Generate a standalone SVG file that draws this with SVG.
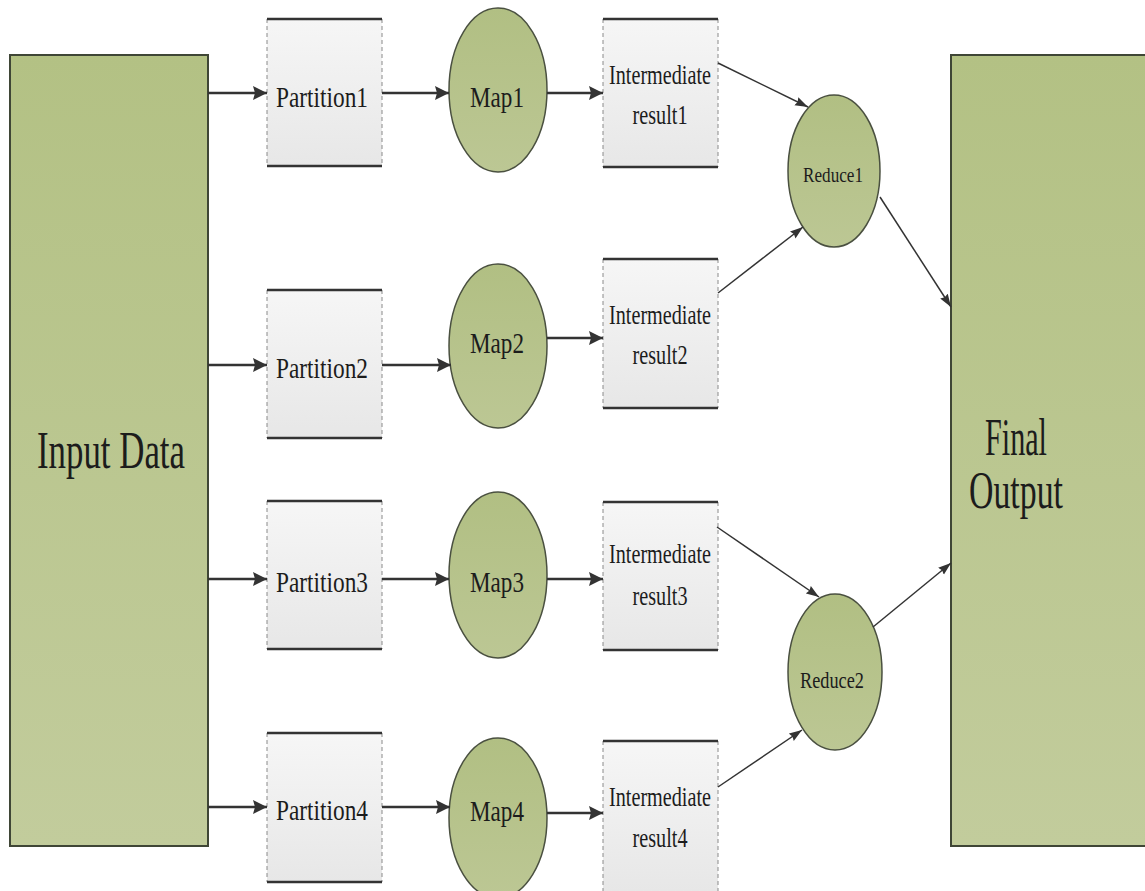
<svg xmlns="http://www.w3.org/2000/svg" width="1145" height="891" viewBox="0 0 1145 891">
  <defs>
    <linearGradient id="green" x1="0" y1="0" x2="0" y2="1">
      <stop offset="0" stop-color="#b3c184"/>
      <stop offset="1" stop-color="#c2cc9c"/>
    </linearGradient>
    <linearGradient id="greenOval" x1="0" y1="0" x2="0" y2="1">
      <stop offset="0" stop-color="#b1bf83"/>
      <stop offset="1" stop-color="#bcc794"/>
    </linearGradient>
    <linearGradient id="paper" x1="0" y1="0" x2="0" y2="1">
      <stop offset="0" stop-color="#f6f6f6"/>
      <stop offset="1" stop-color="#e7e7e7"/>
    </linearGradient>
    <marker id="head" markerUnits="userSpaceOnUse" markerWidth="16" markerHeight="14" refX="14" refY="7" orient="auto">
      <path d="M0,0 L14,7 L0,14 L2,7 z" fill="#333"/>
    </marker>
    <marker id="headThin" markerUnits="userSpaceOnUse" markerWidth="14" markerHeight="10" refX="13" refY="4.5" orient="auto">
      <path d="M0,0 L13,4.5 L0,9 L1.5,4.5 z" fill="#333"/>
    </marker>
    <style>
      .big { fill: url(#green); stroke: #3f4636; stroke-width: 2; }
      .oval { fill: url(#greenOval); stroke: #4a5040; stroke-width: 1.5; }
      .card { fill: url(#paper); }
      .side { stroke: #8a8a8a; stroke-width: 1; stroke-dasharray: 4 3; }
      .edge { stroke: #333; stroke-width: 2.5; }
      .t { font-family: "Liberation Serif", "Times New Roman", serif; fill: #1c1c1c; text-anchor: middle; }
      .conn { stroke: #333; stroke-width: 2.5; fill: none; marker-end: url(#head); }
      .diag { stroke: #333; stroke-width: 1.5; fill: none; marker-end: url(#headThin); }
    </style>
  </defs>

  <rect width="1145" height="891" fill="#ffffff"/>

  <!-- source and sink -->
  <g id="input-data">
    <rect class="big" x="10" y="55" width="198" height="791"/>
    <text class="t" x="111" y="468" font-size="52" textLength="148" lengthAdjust="spacingAndGlyphs">Input Data</text>
  </g>
  <g id="final-output">
    <rect class="big" x="951" y="55" width="210" height="791"/>
    <text class="t" x="1016" y="455" font-size="52" textLength="62" lengthAdjust="spacingAndGlyphs">Final</text>
    <text class="t" x="1016" y="508" font-size="52" textLength="94" lengthAdjust="spacingAndGlyphs">Output</text>
  </g>

  <!-- partitions -->
  <g id="partition1">
    <rect class="card" x="267" y="19" width="115" height="147"/>
    <line class="side" x1="267" y1="19" x2="267" y2="166"/><line class="side" x1="382" y1="19" x2="382" y2="166"/>
    <line class="edge" x1="267" y1="19" x2="382" y2="19"/><line class="edge" x1="267" y1="166" x2="382" y2="166"/>
    <text class="t" x="322" y="107" font-size="30" textLength="92" lengthAdjust="spacingAndGlyphs">Partition1</text>
  </g>
  <g id="partition2">
    <rect class="card" x="267" y="290" width="115" height="148"/>
    <line class="side" x1="267" y1="290" x2="267" y2="438"/><line class="side" x1="382" y1="290" x2="382" y2="438"/>
    <line class="edge" x1="267" y1="290" x2="382" y2="290"/><line class="edge" x1="267" y1="438" x2="382" y2="438"/>
    <text class="t" x="322" y="378" font-size="30" textLength="92" lengthAdjust="spacingAndGlyphs">Partition2</text>
  </g>
  <g id="partition3">
    <rect class="card" x="267" y="501" width="115" height="148"/>
    <line class="side" x1="267" y1="501" x2="267" y2="649"/><line class="side" x1="382" y1="501" x2="382" y2="649"/>
    <line class="edge" x1="267" y1="501" x2="382" y2="501"/><line class="edge" x1="267" y1="649" x2="382" y2="649"/>
    <text class="t" x="322" y="592" font-size="30" textLength="92" lengthAdjust="spacingAndGlyphs">Partition3</text>
  </g>
  <g id="partition4">
    <rect class="card" x="267" y="733" width="115" height="149"/>
    <line class="side" x1="267" y1="733" x2="267" y2="882"/><line class="side" x1="382" y1="733" x2="382" y2="882"/>
    <line class="edge" x1="267" y1="733" x2="382" y2="733"/><line class="edge" x1="267" y1="882" x2="382" y2="882"/>
    <text class="t" x="322" y="820" font-size="30" textLength="92" lengthAdjust="spacingAndGlyphs">Partition4</text>
  </g>

  <!-- map tasks -->
  <g id="map1">
    <ellipse class="oval" cx="498" cy="90" rx="49" ry="82"/>
    <text class="t" x="497" y="107" font-size="30" textLength="54" lengthAdjust="spacingAndGlyphs">Map1</text>
  </g>
  <g id="map2">
    <ellipse class="oval" cx="498" cy="346" rx="49" ry="82"/>
    <text class="t" x="497" y="353" font-size="30" textLength="54" lengthAdjust="spacingAndGlyphs">Map2</text>
  </g>
  <g id="map3">
    <ellipse class="oval" cx="498" cy="575" rx="49" ry="83"/>
    <text class="t" x="497" y="592" font-size="30" textLength="54" lengthAdjust="spacingAndGlyphs">Map3</text>
  </g>
  <g id="map4">
    <ellipse class="oval" cx="498" cy="818" rx="49" ry="80"/>
    <text class="t" x="497" y="821" font-size="30" textLength="54" lengthAdjust="spacingAndGlyphs">Map4</text>
  </g>

  <!-- intermediate results -->
  <g id="intermediate1">
    <rect class="card" x="603" y="19" width="115" height="148"/>
    <line class="side" x1="603" y1="19" x2="603" y2="167"/><line class="side" x1="718" y1="19" x2="718" y2="167"/>
    <line class="edge" x1="603" y1="19" x2="718" y2="19"/><line class="edge" x1="603" y1="167" x2="718" y2="167"/>
    <text class="t" x="660" y="84" font-size="28" textLength="102" lengthAdjust="spacingAndGlyphs">Intermediate</text>
    <text class="t" x="660" y="124" font-size="28" textLength="55" lengthAdjust="spacingAndGlyphs">result1</text>
  </g>
  <g id="intermediate2">
    <rect class="card" x="603" y="259" width="115" height="149"/>
    <line class="side" x1="603" y1="259" x2="603" y2="408"/><line class="side" x1="718" y1="259" x2="718" y2="408"/>
    <line class="edge" x1="603" y1="259" x2="718" y2="259"/><line class="edge" x1="603" y1="408" x2="718" y2="408"/>
    <text class="t" x="660" y="324" font-size="28" textLength="102" lengthAdjust="spacingAndGlyphs">Intermediate</text>
    <text class="t" x="660" y="364" font-size="28" textLength="55" lengthAdjust="spacingAndGlyphs">result2</text>
  </g>
  <g id="intermediate3">
    <rect class="card" x="603" y="502" width="115" height="148"/>
    <line class="side" x1="603" y1="502" x2="603" y2="650"/><line class="side" x1="718" y1="502" x2="718" y2="650"/>
    <line class="edge" x1="603" y1="502" x2="718" y2="502"/><line class="edge" x1="603" y1="650" x2="718" y2="650"/>
    <text class="t" x="660" y="563" font-size="28" textLength="102" lengthAdjust="spacingAndGlyphs">Intermediate</text>
    <text class="t" x="660" y="605" font-size="28" textLength="55" lengthAdjust="spacingAndGlyphs">result3</text>
  </g>
  <g id="intermediate4">
    <rect class="card" x="603" y="741" width="115" height="150"/>
    <line class="side" x1="603" y1="741" x2="603" y2="891"/><line class="side" x1="718" y1="741" x2="718" y2="891"/>
    <line class="edge" x1="603" y1="741" x2="718" y2="741"/>
    <text class="t" x="660" y="806" font-size="28" textLength="102" lengthAdjust="spacingAndGlyphs">Intermediate</text>
    <text class="t" x="660" y="847" font-size="28" textLength="55" lengthAdjust="spacingAndGlyphs">result4</text>
  </g>

  <!-- reduce tasks -->
  <g id="reduce1">
    <ellipse class="oval" cx="834" cy="171" rx="46" ry="76"/>
    <text class="t" x="833" y="182" font-size="22" textLength="60" lengthAdjust="spacingAndGlyphs">Reduce1</text>
  </g>
  <g id="reduce2">
    <ellipse class="oval" cx="835" cy="672" rx="47" ry="78"/>
    <text class="t" x="832" y="688" font-size="23" textLength="64" lengthAdjust="spacingAndGlyphs">Reduce2</text>
  </g>

  <!-- connectors -->
  <g id="connectors">
    <line class="conn" x1="208" y1="93" x2="267" y2="93"/>
    <line class="conn" x1="382" y1="93" x2="449" y2="93"/>
    <line class="conn" x1="547" y1="93" x2="603" y2="93"/>

    <line class="conn" x1="208" y1="365" x2="267" y2="365"/>
    <line class="conn" x1="382" y1="365" x2="451" y2="365"/>
    <line class="conn" x1="547" y1="338" x2="603" y2="338"/>

    <line class="conn" x1="208" y1="579" x2="267" y2="579"/>
    <line class="conn" x1="382" y1="579" x2="449" y2="579"/>
    <line class="conn" x1="547" y1="579" x2="603" y2="579"/>

    <line class="conn" x1="208" y1="807" x2="267" y2="807"/>
    <line class="conn" x1="382" y1="807" x2="450" y2="807"/>
    <line class="conn" x1="547" y1="813" x2="603" y2="813"/>

    <line class="diag" x1="718" y1="63" x2="808" y2="107"/>
    <line class="diag" x1="718" y1="293" x2="803" y2="227"/>
    <line class="diag" x1="880" y1="197" x2="951" y2="307"/>
    <line class="diag" x1="717" y1="527" x2="819" y2="597"/>
    <line class="diag" x1="718" y1="787" x2="802" y2="730"/>
    <line class="diag" x1="873" y1="627" x2="951" y2="563"/>
  </g>
</svg>
